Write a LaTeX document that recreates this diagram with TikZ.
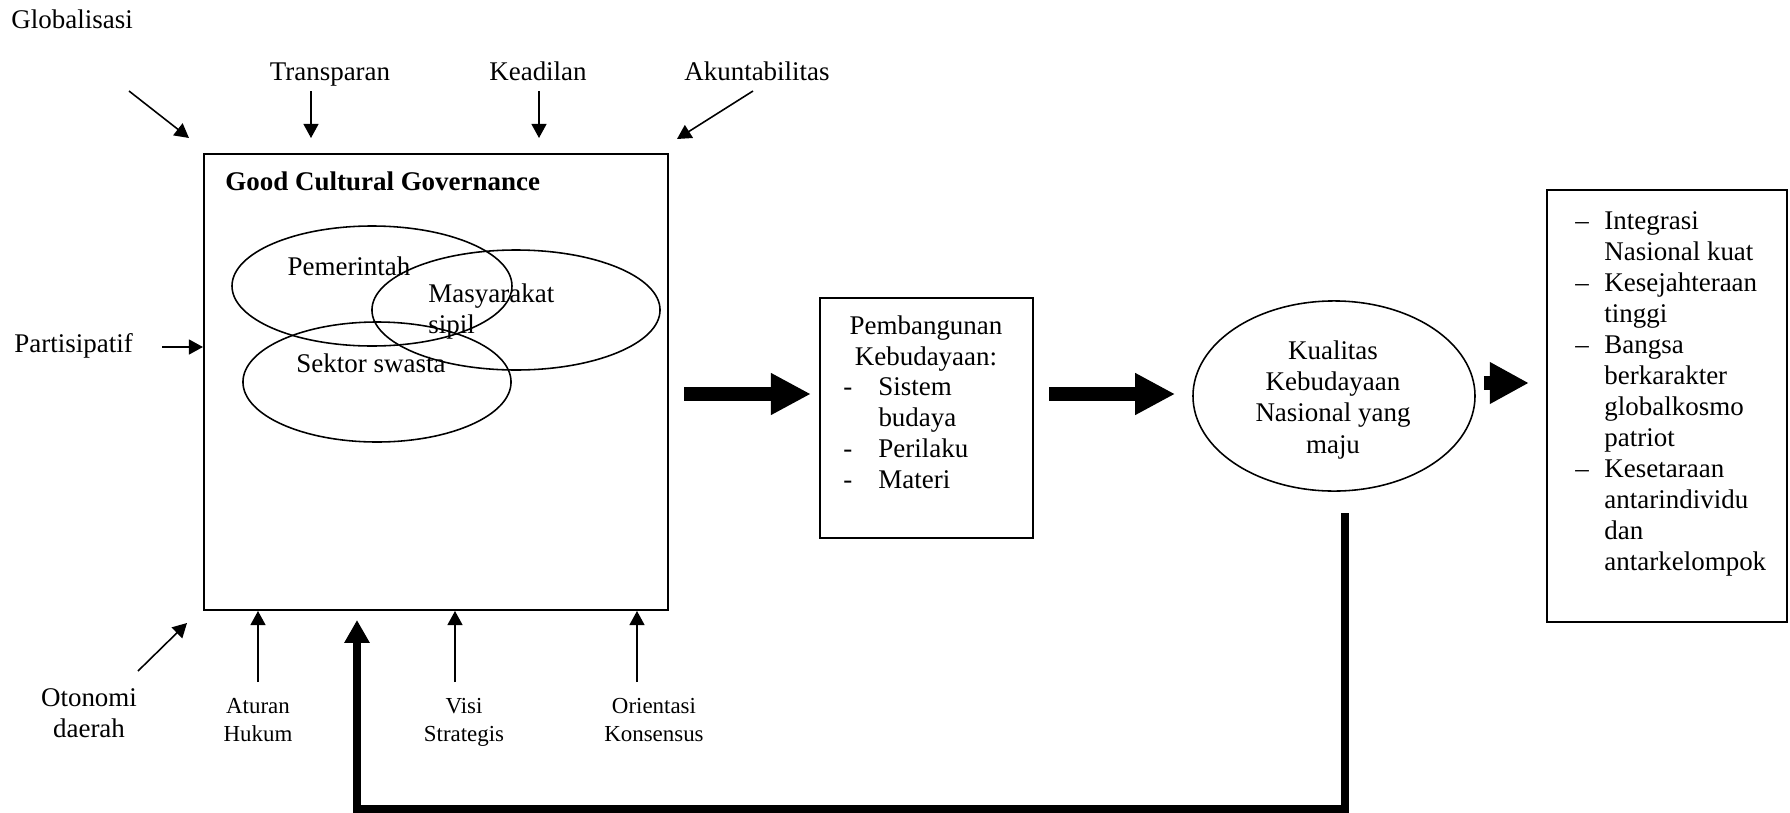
\documentclass[tikz,border=0pt]{standalone}
\usepackage{fontspec}
\setmainfont{Liberation Serif}
\usetikzlibrary{arrows.meta}
\usetikzlibrary{calc}
\usetikzlibrary{positioning}
\usetikzlibrary{shapes.geometric}

\tikzset{
	arr/.style={line width=0.7pt, -{Triangle[length=6.3pt,width=6.7pt]}},
	blokarr/.style={line width=6.2pt, -{Triangle[length=17.8pt,width=17.4pt]}},
	kotak/.style={draw, line width=0.9pt, inner sep=0pt},
	elips/.style={ellipse, draw, line width=0.7pt, inner sep=0pt, minimum height=53.4pt},
	teks/.style={font=\fontsize{12}{13.8}\selectfont, inner sep=0pt},
	kecil/.style={font=\fontsize{10.2}{12.4}\selectfont, inner sep=0pt, align=center},
}

\begin{document}
\begin{tikzpicture}[x=0.445pt, y=-0.445pt]
		\useasboundingbox (0,0) rectangle (1790,813);
		% Good Cultural Governance
		\node[kotak, minimum width=206.5pt, minimum height=202.9pt] (gcg) at (436,382) {};
		\draw (225,190) node[teks, anchor=base west, font=\fontsize{12}{13.8}\selectfont\bfseries] (gcgjudul) {Good Cultural Governance};
		\node[elips, minimum width=124.6pt] (elpem) at (372,286) {};
		\node[elips, minimum width=128.2pt] (elmas) at (516,310) {};
		\node[elips, minimum width=119.3pt] (elswa) at (377,382) {};
		\draw (349,275) node[teks, anchor=base] (pem) {Pemerintah};
		\draw (428,283) node[teks, anchor=north west, align=left] (mas) {Masyarakat\\sipil};
		\draw (371,372) node[teks, anchor=base] (swa) {Sektor swasta};
		% prinsip di sekeliling
		\draw (11,28) node[teks, anchor=base west] (glob) {Globalisasi};
		\draw (330,80) node[teks, anchor=base] (trans) {Transparan};
		\draw (538,80) node[teks, anchor=base] (adil) {Keadilan};
		\draw (757,80) node[teks, anchor=base] (akun) {Akuntabilitas};
		\draw (14,352) node[teks, anchor=base west] (part) {Partisipatif};
		\draw (89,688) node[teks, anchor=north, align=center] (oto) {Otonomi\\daerah};
		\draw (258,698) node[kecil, anchor=north] (atur) {Aturan\\Hukum};
		\draw (464,698) node[kecil, anchor=north] (visi) {Visi\\Strategis};
		\draw (654,698) node[kecil, anchor=north] (orie) {Orientasi\\Konsensus};
		\coordinate (globA) at (129,91);
		\coordinate (globB) at (189,138);
		\coordinate (transA) at (311,91);
		\coordinate (transB) at (311,138);
		\coordinate (adilA) at (539,91);
		\coordinate (adilB) at (539,138);
		\coordinate (akunA) at (753,91);
		\coordinate (akunB) at (677,139);
		\coordinate (partA) at (162,347);
		\coordinate (otoA) at (138,671);
		\coordinate (otoB) at (187,623);
		\coordinate (aturA) at (258,682);
		\coordinate (visiA) at (455,682);
		\coordinate (orieA) at (637,682);
		\draw[arr] (globA) -- (globB);
		\draw[arr] (transA) -- (transB);
		\draw[arr] (adilA) -- (adilB);
		\draw[arr] (akunA) -- (akunB);
		\draw[arr] (partA) -- (partA -| gcg.west);
		\draw[arr] (otoA) -- (otoB);
		\draw[arr] (aturA) -- (aturA |- gcg.south);
		\draw[arr] (visiA) -- (visiA |- gcg.south);
		\draw[arr] (orieA) -- (orieA |- gcg.south);
		% Pembangunan Kebudayaan
		\node[kotak, minimum width=94.8pt, minimum height=106.8pt] (pemb) at (926.5,418) {};
		\draw (926,315) node[teks, anchor=north, align=center] (pembjudul) {Pembangunan\\Kebudayaan:};
		\draw (843,377) node[teks, anchor=north west, align=left] (pemblist) {\makebox[15.6pt][l]{-}Sistem\\\hspace*{15.6pt}budaya\\\makebox[15.6pt][l]{-}Perilaku\\\makebox[15.6pt][l]{-}Materi};
		% Kualitas
		\node[ellipse, draw, line width=0.7pt, inner sep=0pt, minimum width=125.5pt, minimum height=84.6pt] (kual) at (1334,396) {};
		\draw (1333,400) node[teks, align=center] (kualtxt) {Kualitas\\Kebudayaan\\Nasional yang\\maju};
		% hasil
		\node[kotak, minimum width=106.8pt, minimum height=192.2pt] (hasil) at (1667,406) {};
		\draw (1575,211) node[teks, anchor=north west, align=left] (hasiltxt) {\makebox[12.9pt][l]{\textendash}Integrasi\\\hspace*{12.9pt}Nasional kuat\\\makebox[12.9pt][l]{\textendash}Kesejahteraan\\\hspace*{12.9pt}tinggi\\\makebox[12.9pt][l]{\textendash}Bangsa\\\hspace*{12.9pt}berkarakter\\\hspace*{12.9pt}globalkosmo\\\hspace*{12.9pt}patriot\\\makebox[12.9pt][l]{\textendash}Kesetaraan\\\hspace*{12.9pt}antarindividu\\\hspace*{12.9pt}dan\\\hspace*{12.9pt}antarkelompok};
		% panah tebal
		\coordinate (sumbu) at (0,394);
		\coordinate (sumbudua) at (0,383);
		\draw[blokarr, shorten <=6.7pt, shorten >=3.6pt] (gcg.east |- sumbu) -- (pemb.west |- sumbu);
		\draw[blokarr, shorten <=6.7pt, shorten >=7.6pt] (pemb.east |- sumbu) -- (kual.west |- sumbu);
		\draw[line width=5.8pt, -{Triangle[length=17.4pt,width=17.4pt]}, shorten <=3.6pt, shorten >=7.6pt] (kual.east |- sumbudua) -- (hasil.west |- sumbudua);
		% umpan balik
		\coordinate (balikA) at (1345,513);
		\coordinate (balikB) at (357,620);
		\coordinate (balikC) at (357,809);
		\draw[line width=3.6pt, -{Triangle[length=10.2pt,width=10.7pt]}] (balikA) -- (balikA |- balikC) -- (balikC) -- (balikB);
\end{tikzpicture}
\end{document}
